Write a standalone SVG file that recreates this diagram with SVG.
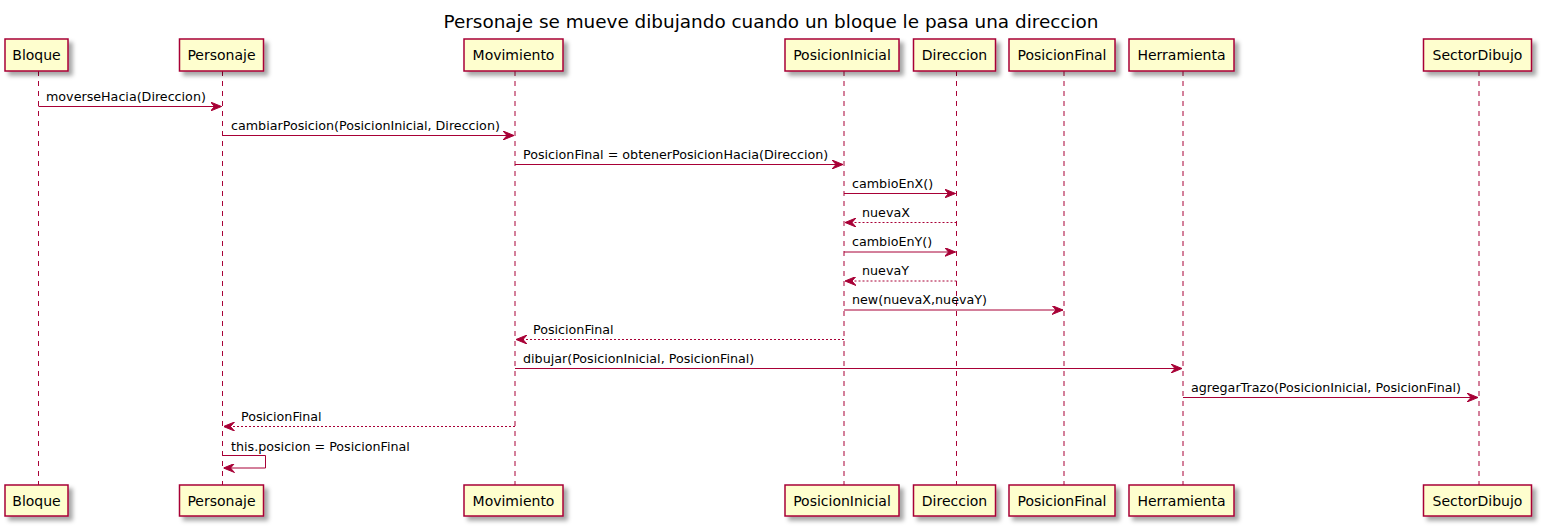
<svg xmlns="http://www.w3.org/2000/svg" width="1544" height="529" viewBox="0 0 1544 529">
<defs>
<filter id="sh" x="-10%" y="-20%" width="130%" height="160%">
<feDropShadow dx="4" dy="4" stdDeviation="2" flood-color="#000000" flood-opacity="0.35"/>
</filter>
<marker id="ah" viewBox="0 0 11 9" refX="11" refY="4.5" markerWidth="11" markerHeight="9" markerUnits="userSpaceOnUse" orient="auto">
<polygon points="0,0 11,4.5 0,9 4,4.5" fill="#A80036" stroke="#A80036" stroke-width="1"/>
</marker>
</defs>
<style>
.box{fill:#FEFECE;stroke:#A80036;stroke-width:1.5;filter:url(#sh)}
.life{stroke:#A80036;stroke-width:1;stroke-dasharray:5,5;fill:none}
.pt{font-family:"DejaVu Sans",sans-serif;font-size:14px;fill:#000;text-anchor:middle}
.mt{font-family:"DejaVu Sans",sans-serif;font-size:12.7px;fill:#000}
.msg{stroke:#A80036;stroke-width:1;fill:none;marker-end:url(#ah)}
.ret{stroke:#A80036;stroke-width:1;fill:none;stroke-dasharray:2,2;marker-end:url(#ah)}
.title{font-family:"DejaVu Sans",sans-serif;font-size:18.4px;fill:#000;text-anchor:middle}
</style>
<rect width="1544" height="529" fill="#FFFFFF"/>
<text class="title" x="771" y="28">Personaje se mueve dibujando cuando un bloque le pasa una direccion</text>
<g id="lifelines">
<line class="life" x1="38.5" y1="71" x2="38.5" y2="485"/>
<line class="life" x1="222.5" y1="71" x2="222.5" y2="485"/>
<line class="life" x1="515" y1="71" x2="515" y2="485"/>
<line class="life" x1="844" y1="71" x2="844" y2="485"/>
<line class="life" x1="956.5" y1="71" x2="956.5" y2="485"/>
<line class="life" x1="1064" y1="71" x2="1064" y2="485"/>
<line class="life" x1="1183" y1="71" x2="1183" y2="485"/>
<line class="life" x1="1479" y1="71" x2="1479" y2="485"/>
</g>
<g id="Bloque">
<rect class="box" x="5" y="39" width="63" height="32"/><text class="pt" x="36.5" y="59.5">Bloque</text>
<rect class="box" x="5" y="485" width="63" height="31"/><text class="pt" x="36.5" y="505.5">Bloque</text>
</g>
<g id="Personaje">
<rect class="box" x="179.5" y="39" width="84" height="32"/><text class="pt" x="221.5" y="59.5">Personaje</text>
<rect class="box" x="179.5" y="485" width="84" height="31"/><text class="pt" x="221.5" y="505.5">Personaje</text>
</g>
<g id="Movimiento">
<rect class="box" x="464" y="39" width="99" height="32"/><text class="pt" x="513.5" y="59.5">Movimiento</text>
<rect class="box" x="464" y="485" width="99" height="31"/><text class="pt" x="513.5" y="505.5">Movimiento</text>
</g>
<g id="PosicionInicial">
<rect class="box" x="785" y="39" width="114" height="32"/><text class="pt" x="842" y="59.5">PosicionInicial</text>
<rect class="box" x="785" y="485" width="114" height="31"/><text class="pt" x="842" y="505.5">PosicionInicial</text>
</g>
<g id="Direccion">
<rect class="box" x="913.5" y="39" width="82" height="32"/><text class="pt" x="954.5" y="59.5">Direccion</text>
<rect class="box" x="913.5" y="485" width="82" height="31"/><text class="pt" x="954.5" y="505.5">Direccion</text>
</g>
<g id="PosicionFinal">
<rect class="box" x="1009" y="39" width="106" height="32"/><text class="pt" x="1062" y="59.5">PosicionFinal</text>
<rect class="box" x="1009" y="485" width="106" height="31"/><text class="pt" x="1062" y="505.5">PosicionFinal</text>
</g>
<g id="Herramienta">
<rect class="box" x="1129" y="39" width="105" height="32"/><text class="pt" x="1181.5" y="59.5">Herramienta</text>
<rect class="box" x="1129" y="485" width="105" height="31"/><text class="pt" x="1181.5" y="505.5">Herramienta</text>
</g>
<g id="SectorDibujo">
<rect class="box" x="1423.5" y="39" width="108" height="32"/><text class="pt" x="1477.5" y="59.5">SectorDibujo</text>
<rect class="box" x="1423.5" y="485" width="108" height="31"/><text class="pt" x="1477.5" y="505.5">SectorDibujo</text>
</g>
<g id="connectors">
<line class="msg" x1="38.5" y1="106.5" x2="221.5" y2="106.5"/>
<text class="mt" x="46" y="100.5">moverseHacia(Direccion)</text>
<line class="msg" x1="222.5" y1="135.5" x2="514" y2="135.5"/>
<text class="mt" x="231" y="129.5">cambiarPosicion(PosicionInicial, Direccion)</text>
<line class="msg" x1="515" y1="164.5" x2="843" y2="164.5"/>
<text class="mt" x="523" y="158.5">PosicionFinal = obtenerPosicionHacia(Direccion)</text>
<line class="msg" x1="844" y1="193.5" x2="955.5" y2="193.5"/>
<text class="mt" x="852" y="187.5">cambioEnX()</text>
<line class="ret" x1="956.5" y1="222.5" x2="845" y2="222.5"/>
<text class="mt" x="862" y="216.5">nuevaX</text>
<line class="msg" x1="844" y1="252" x2="955.5" y2="252"/>
<text class="mt" x="852" y="246">cambioEnY()</text>
<line class="ret" x1="956.5" y1="281" x2="845" y2="281"/>
<text class="mt" x="862" y="275">nuevaY</text>
<line class="msg" x1="844" y1="310" x2="1063" y2="310"/>
<text class="mt" x="852" y="304">new(nuevaX,nuevaY)</text>
<line class="ret" x1="844" y1="339.5" x2="516" y2="339.5"/>
<text class="mt" x="533" y="333.5">PosicionFinal</text>
<line class="msg" x1="515" y1="368.5" x2="1182" y2="368.5"/>
<text class="mt" x="523" y="362.5">dibujar(PosicionInicial, PosicionFinal)</text>
<line class="msg" x1="1183" y1="397.5" x2="1478" y2="397.5"/>
<text class="mt" x="1191" y="391.5">agregarTrazo(PosicionInicial, PosicionFinal)</text>
<line class="ret" x1="515" y1="426.5" x2="223.5" y2="426.5"/>
<text class="mt" x="241" y="420.5">PosicionFinal</text>
<polyline class="msg" points="222.5,455.5 265.5,455.5 265.5,468 223.5,468"/>
<text class="mt" x="231" y="450.5">this.posicion = PosicionFinal</text>
</g>
</svg>
